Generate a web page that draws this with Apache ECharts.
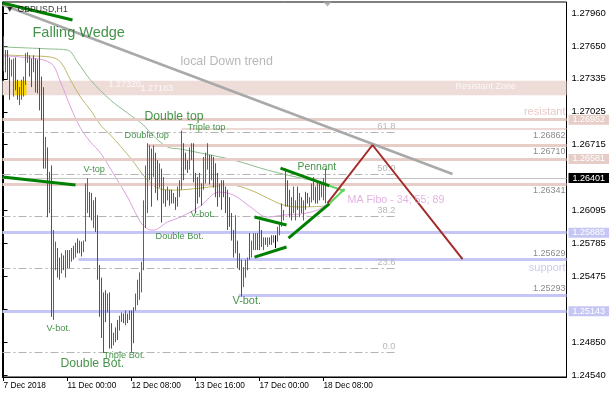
<!DOCTYPE html>
<html><head><meta charset="utf-8">
<script src="https://cdn.jsdelivr.net/npm/echarts@6/dist/echarts.min.js"></script>
<style>html,body{margin:0;padding:0;background:#fff}#c{width:610px;height:400px}</style>
</head><body><div id="c"></div><script>
// ---------- data ----------
const SLOT_COUNT = 282; // hourly slots visible on the x axis
const xTickIndex = [0, 32, 64, 96, 128, 160];
const xTickLabels = ['7 Dec 2018', '11 Dec 00:00', '12 Dec 08:00', '13 Dec 16:00', '17 Dec 00:00', '18 Dec 08:00'];
const yTickValues = [1.24540, 1.24851, 1.25162, 1.25473, 1.25784, 1.26095, 1.26405, 1.26716, 1.27027, 1.27338, 1.27649, 1.27960];
const yTickLabels = ['1.24540', '1.24850', '', '1.25475', '1.25785', '1.26095', '', '1.26715', '1.27025', '1.27335', '1.27650', '1.27960'];

// GBPUSD H1 candles: [open, close, low, high]
const candles = [
[1.2771,1.2743,1.2741,1.2774],[1.2742,1.2759,1.2740,1.2761],[1.2759,1.2735,1.2733,1.2761],[1.2752,1.2716,1.2714,1.2754],
[1.2737,1.2750,1.2736,1.2752],[1.2719,1.2751,1.2717,1.2753],[1.2752,1.2725,1.2723,1.2754],[1.2731,1.2716,1.2714,1.2733],
[1.2711,1.2724,1.2709,1.2726],[1.2716,1.2731,1.2714,1.2733],[1.2719,1.2734,1.2717,1.2736],[1.2730,1.2756,1.2728,1.2758],
[1.2750,1.2757,1.2749,1.2759],[1.2755,1.2737,1.2736,1.2756],[1.2751,1.2728,1.2726,1.2753],[1.2741,1.2754,1.2740,1.2756],
[1.2751,1.2723,1.2721,1.2753],[1.2750,1.2722,1.2720,1.2752],[1.2750,1.2706,1.2704,1.2763],[1.2730,1.2697,1.2695,1.2736],
[1.2700,1.2652,1.2649,1.2726],[1.2651,1.2677,1.2649,1.2679],[1.2667,1.2605,1.2603,1.2669],[1.2609,1.2644,1.2607,1.2646],
[1.2645,1.2520,1.2509,1.2652],[1.2518,1.2580,1.2506,1.2591],[1.2560,1.2578,1.2553,1.2580],[1.2572,1.2548,1.2546,1.2574],
[1.2560,1.2546,1.2544,1.2565],[1.2552,1.2567,1.2550,1.2569],[1.2566,1.2555,1.2553,1.2567],[1.2548,1.2570,1.2546,1.2572],
[1.2570,1.2557,1.2555,1.2572],[1.2557,1.2570,1.2555,1.2572],[1.2563,1.2573,1.2561,1.2574],[1.2574,1.2565,1.2563,1.2576],
[1.2567,1.2577,1.2565,1.2579],[1.2581,1.2571,1.2569,1.2583],[1.2571,1.2580,1.2569,1.2581],[1.2578,1.2568,1.2566,1.2580],
[1.2571,1.2580,1.2570,1.2581],[1.2581,1.2632,1.2580,1.2635],[1.2615,1.2638,1.2607,1.2640],[1.2625,1.2606,1.2603,1.2627],
[1.2624,1.2602,1.2600,1.2626],[1.2595,1.2617,1.2593,1.2619],[1.2620,1.2591,1.2589,1.2622],[1.2600,1.2546,1.2544,1.2605],
[1.2550,1.2511,1.2509,1.2558],[1.2540,1.2491,1.2489,1.2546],[1.2500,1.2477,1.2475,1.2532],[1.2532,1.2506,1.2504,1.2534],
[1.2515,1.2529,1.2513,1.2531],[1.2530,1.2481,1.2479,1.2532],[1.2501,1.2481,1.2479,1.2503],[1.2483,1.2493,1.2482,1.2494],
[1.2486,1.2497,1.2485,1.2499],[1.2504,1.2489,1.2487,1.2506],[1.2497,1.2509,1.2496,1.2510],[1.2505,1.2512,1.2504,1.2513],
[1.2511,1.2504,1.2503,1.2512],[1.2503,1.2514,1.2501,1.2515],[1.2511,1.2504,1.2503,1.2512],[1.2507,1.2514,1.2506,1.2515],
[1.2514,1.2478,1.2476,1.2515],[1.2516,1.2486,1.2484,1.2518],[1.2516,1.2529,1.2515,1.2531],[1.2522,1.2542,1.2520,1.2544],
[1.2527,1.2549,1.2525,1.2551],[1.2534,1.2559,1.2532,1.2561],[1.2557,1.2617,1.2553,1.2619],[1.2600,1.2650,1.2593,1.2652],
[1.2630,1.2671,1.2607,1.2673],[1.2640,1.2669,1.2638,1.2671],[1.2666,1.2615,1.2613,1.2668],[1.2643,1.2669,1.2641,1.2671],
[1.2662,1.2628,1.2626,1.2664],[1.2655,1.2621,1.2619,1.2657],[1.2633,1.2652,1.2631,1.2654],[1.2647,1.2600,1.2598,1.2649],
[1.2618,1.2639,1.2616,1.2641],[1.2627,1.2615,1.2613,1.2629],[1.2621,1.2630,1.2619,1.2632],[1.2627,1.2616,1.2614,1.2629],
[1.2627,1.2618,1.2616,1.2629],[1.2618,1.2624,1.2616,1.2626],[1.2621,1.2612,1.2610,1.2622],[1.2614,1.2630,1.2613,1.2632],
[1.2624,1.2636,1.2622,1.2638],[1.2631,1.2670,1.2629,1.2685],[1.2671,1.2640,1.2638,1.2673],[1.2662,1.2650,1.2648,1.2664],
[1.2655,1.2646,1.2645,1.2657],[1.2649,1.2667,1.2648,1.2669],[1.2659,1.2671,1.2657,1.2673],[1.2671,1.2638,1.2636,1.2673],
[1.2640,1.2609,1.2607,1.2645],[1.2639,1.2618,1.2616,1.2641],[1.2624,1.2643,1.2622,1.2645],[1.2633,1.2616,1.2614,1.2635],
[1.2631,1.2658,1.2629,1.2660],[1.2637,1.2662,1.2635,1.2664],[1.2650,1.2671,1.2648,1.2673],[1.2660,1.2636,1.2634,1.2662],
[1.2640,1.2660,1.2638,1.2662],[1.2658,1.2633,1.2631,1.2660],[1.2652,1.2624,1.2622,1.2654],[1.2643,1.2615,1.2613,1.2645],
[1.2624,1.2633,1.2622,1.2635],[1.2636,1.2612,1.2610,1.2638],[1.2636,1.2624,1.2622,1.2638],[1.2630,1.2609,1.2607,1.2632],
[1.2627,1.2593,1.2591,1.2629],[1.2620,1.2596,1.2594,1.2622],[1.2605,1.2583,1.2581,1.2607],[1.2589,1.2567,1.2565,1.2591],
[1.2571,1.2603,1.2569,1.2605],[1.2579,1.2557,1.2555,1.2581],[1.2567,1.2555,1.2553,1.2569],[1.2561,1.2530,1.2528,1.2563],
[1.2539,1.2554,1.2537,1.2556],[1.2548,1.2561,1.2546,1.2563],[1.2555,1.2563,1.2553,1.2565],[1.2586,1.2565,1.2563,1.2588],
[1.2567,1.2579,1.2565,1.2581],[1.2574,1.2586,1.2572,1.2588],[1.2574,1.2586,1.2572,1.2588],[1.2586,1.2574,1.2572,1.2588],
[1.2598,1.2574,1.2572,1.2600],[1.2589,1.2577,1.2575,1.2591],[1.2574,1.2582,1.2572,1.2584],[1.2583,1.2578,1.2577,1.2584],
[1.2576,1.2583,1.2575,1.2584],[1.2583,1.2578,1.2577,1.2584],[1.2585,1.2578,1.2577,1.2586],[1.2580,1.2585,1.2579,1.2586],
[1.2580,1.2580,1.2574,1.2586],[1.2581,1.2592,1.2580,1.2594],[1.2587,1.2596,1.2586,1.2597],[1.2595,1.2614,1.2594,1.2616],
[1.2601,1.2609,1.2600,1.2610],[1.2614,1.2640,1.2613,1.2649],[1.2636,1.2615,1.2613,1.2638],[1.2627,1.2605,1.2603,1.2629],
[1.2620,1.2602,1.2600,1.2622],[1.2609,1.2630,1.2607,1.2632],[1.2602,1.2617,1.2600,1.2619],[1.2630,1.2612,1.2610,1.2632],
[1.2605,1.2624,1.2603,1.2626],[1.2620,1.2609,1.2607,1.2622],[1.2602,1.2617,1.2600,1.2619],[1.2625,1.2612,1.2610,1.2627],
[1.2625,1.2617,1.2616,1.2626],[1.2614,1.2621,1.2613,1.2622],[1.2619,1.2633,1.2617,1.2635],[1.2621,1.2639,1.2619,1.2641],
[1.2630,1.2618,1.2616,1.2632],[1.2618,1.2634,1.2616,1.2636],[1.2633,1.2621,1.2619,1.2635],[1.2623,1.2633,1.2622,1.2635],
[1.2621,1.2638,1.2619,1.2640],[1.2620,1.26401,1.2616,1.2649]
];

// moving averages (MA Fibo 34 / 55 / 89): [bar, price]
const ma34 = [[0,1.27554],[8.5,1.27544],[23.5,1.27488],[28.5,1.27308],[33.5,1.27072],[38.5,1.26873],[43.5,1.26741],[48.5,1.26637],[56,1.26410],[62,1.26221],[68.5,1.25985],[72,1.25919],[75,1.25909],[82,1.25985],[88.5,1.26032],[98.5,1.26136],[107.5,1.26268],[115,1.26240],[123.5,1.26127],[132,1.26032],[140,1.26051],[148.5,1.26061],[157,1.26098],[161,1.26146]];
const ma55 = [[0,1.27563],[13.5,1.27554],[23.5,1.27544],[28.5,1.27497],[33.5,1.27327],[38.5,1.27166],[43.5,1.27043],[48.5,1.26902],[53.5,1.26807],[63.5,1.26590],[72,1.26382],[78.5,1.26297],[86,1.26287],[98.5,1.26306],[113.5,1.26335],[123.5,1.26287],[132,1.26212],[140,1.26146],[148.5,1.26127],[161,1.26136]];
const ma89 = [[0,1.27639],[23.5,1.27620],[32,1.27610],[37,1.27497],[43.5,1.27327],[53.5,1.27138],[62,1.27015],[70,1.26902],[73.5,1.26826],[82,1.26694],[88.5,1.26675],[98.5,1.26637],[115,1.26571],[132,1.26476],[148.5,1.26401],[161,1.26354]];

// horizontal levels
const resistZone = [1.27183, 1.27320];
const highlightBars = [5.5, 11.5];
const levelValues = [1.26952, 1.26862, 1.26710, 1.26581, 1.26341, 1.25885, 1.25629, 1.25293, 1.25143];
const levelStartBar = [-0.5, 89, 72, -0.5, -0.5, -0.5, 37.5, 117.5, -0.5];
const levelTag = ['box', 'below', 'below', 'box', 'below', 'box', 'above', 'above', 'box'];
const levelTone = ['pink', 'pinkThin', 'pink', 'pink', 'pink', 'blue', 'blue', 'blue', 'blue'];
const lastPrice = 1.26401;
const fibValues = [1.24757, 1.25550, 1.26041, 1.26437, 1.26834];
const fibNames = ['0.0', '23.6', '38.2', '50.0', '61.8'];
const fibEndBar = 196;

// drawn trend lines: [bar, price]
const downTrend = [[-0.5, 1.28038], [224.5, 1.26439]];
const wedgeTop = [[-0.5, 1.28054], [34.5, 1.27894]];
const wedgeLeft = [[-0.5, 1.26410], [36, 1.26335]];
const pennantUpper = [[138.5, 1.26495], [163, 1.26327]];
const pennantUpperTip = [[163, 1.26327], [170.5, 1.26278]];
const pennantLower = [[142.5, 1.25834], [163, 1.26160]];
const pennantLowerTip = [[163, 1.26160], [170.5, 1.26297]];
const flagUpper = [[125.5, 1.26032], [141.5, 1.25957]];
const flagLower = [[125.5, 1.25654], [141.5, 1.25749]];
const projection = [[162, 1.26164], [184.5, 1.26713], [229.5, 1.25635]];

// annotations
const annoText = ['\u25BC', 'GBPUSD,H1', 'Falling Wedge', 'local Down trend', 'Double top', 'Double top', 'Triple top', 'V-top', 'V-bot.', 'Double Bot.', 'Pennant', 'MA Fibo - 34; 55; 89', 'V-bot.', 'V-bot.', 'Triple Bot.', 'Double Bot.', 'Resistant Zone', '1.27320', '1.27183', 'resistant', 'support'];
const annoBar = [1, 7, 14.5, 88.5, 70.5, 60.5, 92, 40, 93.5, 76, 147, 172, 21.5, 114.5, 50, 28.5, 226, 52.5, 68.5, 281, 281];
const annoPrice = [1.27989, 1.27989, 1.27771, 1.27497, 1.26977, 1.26807, 1.26883, 1.26486, 1.26061, 1.25853, 1.26505, 1.26193, 1.24983, 1.25239, 1.24728, 1.24643, 1.27261, 1.27289, 1.27242, 1.27025, 1.25551];
const annoKind = ['hdr', 'hdr', 'pat14', 'trend', 'pat12', 'pat9', 'pat9', 'pat9', 'pat9', 'pat9', 'pat10', 'ma', 'pat9', 'pat11', 'pat9', 'pat12', 'white', 'white', 'white', 'res', 'sup'];
const shiftMarker = [162, 1.28045];

// ---------- styles ----------
const FONT = '"Liberation Sans", Arial, sans-serif';
const UP = '#008b8b', DOWN = '#dc143c';
const PINK = '#e6cdc8', BLUE = '#c6c6f5';
const PAT = {color: '#17781a', textShadowColor: '#e8c800', textShadowOffsetX: -1, textShadowOffsetY: 0, textShadowBlur: 0};
const kindStyle = {
  hdr: {color: '#000', fontSize: 8.7},
  pat14: Object.assign({fontSize: 14.5}, PAT),
  pat12: Object.assign({fontSize: 12.2}, PAT),
  pat11: Object.assign({fontSize: 10.9}, PAT),
  pat10: Object.assign({fontSize: 10.4}, PAT),
  pat9: Object.assign({fontSize: 9.2}, PAT),
  trend: {color: '#a6a6a6', fontSize: 12.4},
  ma: {color: '#dda0dd', fontSize: 10.7},
  white: {color: '#ffffff', fontSize: 9},
  res: {color: '#e2bcb6', fontSize: 11, align: 'right'},
  sup: {color: '#bcbcf0', fontSize: 11, align: 'right'}
};

const LEFT = -0.5, RIGHT = SLOT_COUNT - 0.5;
const markLines = [];
levelValues.forEach((v, i) => {
  const tone = levelTone[i];
  const color = tone === 'blue' ? BLUE : PINK;
  const width = tone === 'pinkThin' ? 1.5 : 3;
  let label;
  if (levelTag[i] === 'box') {
    label = {show: true, position: 'end', distance: 2, formatter: v.toFixed(5), color: '#fff',
      backgroundColor: color, padding: [1, 4, 0, 4], fontSize: 9, fontFamily: FONT};
  } else {
    label = {show: true, position: levelTag[i] === 'below' ? 'insideEndBottom' : 'insideEndTop', distance: [1, 2],
      formatter: v.toFixed(5), color: '#8c8c8c', fontSize: 9, fontFamily: FONT};
  }
  markLines.push([{coord: [levelStartBar[i], v], lineStyle: {color, width, type: 'solid'}, label}, {coord: [RIGHT, v]}]);
});
markLines.push([{coord: [LEFT, lastPrice], lineStyle: {color: '#c4c4c4', width: 1, type: 'solid'},
  label: {show: true, position: 'end', distance: 2, formatter: lastPrice.toFixed(5), color: '#fff', backgroundColor: '#000',
    padding: [1, 4, 0, 4], fontSize: 9, fontFamily: FONT}}, {coord: [RIGHT, lastPrice]}]);
fibValues.forEach((v, i) => {
  markLines.push([{coord: [LEFT, v], lineStyle: {color: '#b4b4b4', width: 1, type: [8, 3, 2, 3]},
    label: {show: true, position: 'insideEndTop', distance: [0, 1], formatter: fibNames[i], color: '#b8b8b8', fontSize: 9.4, fontFamily: FONT}},
    {coord: [fibEndBar, v]}]);
});

function trendSeries(pts, color, width, z) {
  return {type: 'line', xAxisIndex: 1, yAxisIndex: 0, data: pts, symbol: 'none', silent: true, z,
    lineStyle: {color, width}};
}
function maSeries(pts, color) {
  return {type: 'line', xAxisIndex: 1, yAxisIndex: 0, data: pts, symbol: 'none', smooth: 0.35, silent: true, z: 2,
    lineStyle: {color, width: 1}};
}
// rectangular zone in data coordinates: [x0, yTop, x1, yBottom]
function zoneSeries(rect, fill, z) {
  return {type: 'custom', xAxisIndex: 1, yAxisIndex: 0, silent: true, z, clip: false,
    data: [rect],
    renderItem: (params, api) => {
      const p0 = api.coord([api.value(0), api.value(1)]);
      const p1 = api.coord([api.value(2), api.value(3)]);
      return {type: 'rect', z2: 0, shape: {x: p0[0], y: p0[1], width: p1[0] - p0[0], height: p1[1] - p0[1]},
        style: {fill}};
    }};
}

const annoData = annoText.map((t, i) => {
  const st = kindStyle[annoKind[i]];
  return {value: [annoBar[i], annoPrice[i]],
    label: Object.assign({show: true, position: 'inside', align: 'left', verticalAlign: 'middle', formatter: t, fontFamily: FONT}, st)};
});

const Y_MIN = 1.245212, Y_MAX = 1.280639;

const chart = echarts.init(document.getElementById('c'), null, {renderer: 'canvas'});
chart.setOption({
  animation: false,
  backgroundColor: '#fff',
  // half-pixel offset keeps the 1px candle strokes crisp, with a 1px gap between bars
  grid: {left: 2.5, right: 43.5, top: 2, bottom: 23, show: true, borderColor: '#000', borderWidth: 1},
  xAxis: [{
    type: 'category', data: Array.from({length: SLOT_COUNT}, (_, i) => i), boundaryGap: true,
    axisLine: {show: true, lineStyle: {color: '#000'}},
    axisTick: {show: true, alignWithLabel: true, length: 4, interval: (i) => xTickIndex.includes(i), lineStyle: {color: '#000'}},
    axisLabel: {interval: (i) => xTickIndex.includes(i), formatter: (v, i) => xTickLabels[xTickIndex.indexOf(+v)] || '',
      align: 'left', margin: 5, fontSize: 8.3, color: '#000', fontFamily: FONT},
    splitLine: {show: false}
  }, {
    type: 'value', min: LEFT, max: RIGHT, show: false
  }],
  yAxis: [{
    type: 'value', position: 'right', min: Y_MIN, max: Y_MAX, scale: true,
    splitLine: {show: false},
    axisLine: {show: true, lineStyle: {color: '#000'}},
    axisTick: {show: true, length: 4, customValues: yTickValues, lineStyle: {color: '#000'}},
    axisLabel: {customValues: yTickValues, margin: 5, fontSize: 9.5, color: '#000', fontFamily: FONT,
      formatter: (v) => {
        let best = 0;
        yTickValues.forEach((t, i) => { if (Math.abs(t - v) < Math.abs(yTickValues[best] - v)) best = i; });
        return yTickLabels[best];
      }}
  }],
  series: [
    zoneSeries([LEFT, resistZone[1], RIGHT, resistZone[0]], '#eedcd8', 1),
    zoneSeries([highlightBars[0], resistZone[1], highlightBars[1], resistZone[0]], '#ffd700', 2),
    {type: 'line', xAxisIndex: 1, yAxisIndex: 0, data: [[LEFT, lastPrice]], symbol: 'none', silent: true, z: 2,
      lineStyle: {opacity: 0},
      markLine: {silent: true, z: 2.6, symbol: ['none', 'none'], data: markLines}
    },
    maSeries(ma89, '#8fbc8f'),
    maSeries(ma55, '#bdb76b'),
    maSeries(ma34, '#dda0dd'),
    {type: 'candlestick', xAxisIndex: 0, yAxisIndex: 0, data: candles, barWidth: 0.01, z: 3, silent: true,
      itemStyle: {color: UP, color0: DOWN, borderColor: UP, borderColor0: DOWN, borderColorDoji: '#000', borderWidth: 1}},
    trendSeries(downTrend, '#a9a9a9', 2.5, 4),
    trendSeries(wedgeTop, '#008000', 3, 4),
    trendSeries(wedgeLeft, '#008000', 3, 4),
    trendSeries(pennantUpper, '#008000', 3, 4),
    trendSeries(pennantUpperTip, '#5fd35f', 2, 4),
    trendSeries(pennantLower, '#008000', 3, 4),
    trendSeries(pennantLowerTip, '#5fd35f', 2, 4),
    trendSeries(flagUpper, '#008000', 3, 4),
    trendSeries(flagLower, '#008000', 3, 4),
    trendSeries(projection, '#a52a2a', 2, 4),
    {type: 'scatter', xAxisIndex: 1, yAxisIndex: 0, data: [shiftMarker], symbol: 'triangle', symbolRotate: 180,
      symbolSize: [9, 5], itemStyle: {color: '#a0a0a0'}, silent: true, z: 5},
    {type: 'scatter', xAxisIndex: 1, yAxisIndex: 0, data: annoData, symbolSize: 1,
      itemStyle: {color: 'rgba(0,0,0,0)'}, silent: true, z: 6}
  ]
});
</script></body></html>
